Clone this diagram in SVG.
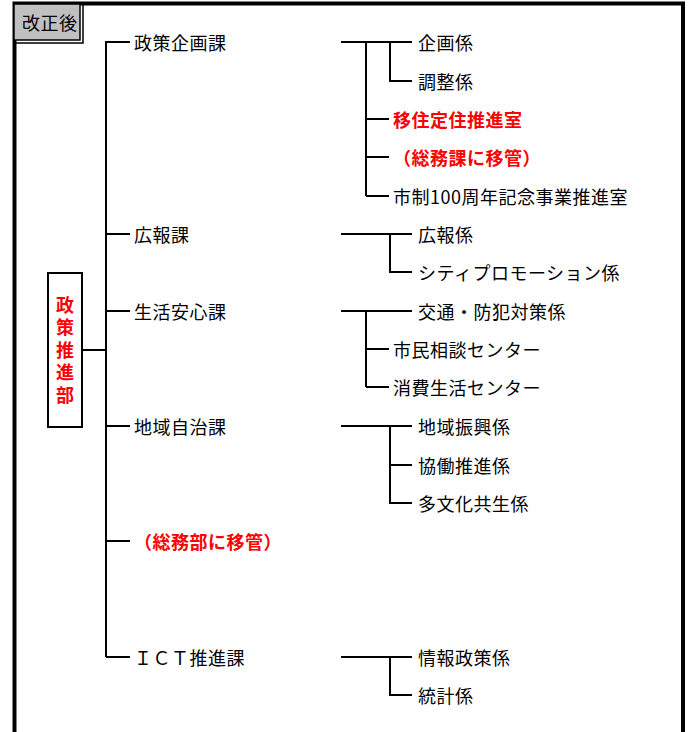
<svg xmlns="http://www.w3.org/2000/svg" width="691" height="732" viewBox="0 0 691 732">
<style>
text{font-family:"Noto Sans CJK JP","Noto Sans",sans-serif;font-size:18px;letter-spacing:0.5px;dominant-baseline:central;fill:#000}
.red{fill:#ff0000;font-weight:bold}
.ln{stroke:#000;stroke-width:2;fill:none}
.frame{stroke:#000;stroke-width:4;fill:none}
</style>
<rect width="691" height="732" fill="#fff"/>
<g id="frame">
<path class="frame" d="M14.5,740 V3.5 H683 V740"/>
</g>
<g id="label">
<rect x="14" y="4" width="66" height="36" fill="#c0c0c0" stroke="#000" stroke-width="1.5"/>
<path d="M14.5,43 H83 V3.5" stroke="#000" stroke-width="1.5" fill="none"/>
<text x="22" y="22">改正後</text>
</g>
<g id="connectors" class="ln">
<path d="M82,350 H106"/>
<path d="M106,41 V657"/>
<path d="M106,42 H130 M106,234 H130 M106,311 H130 M106,426 H130 M106,541 H130 M106,657 H130"/>
<path d="M341,42 H412 M366,42 V196 M366,119 H389 M366,157 H389 M366,196 H389 M390,42 V81 H412"/>
<path d="M341,234 H412 M390,234 V272 H412"/>
<path d="M341,311 H412 M366,311 V387 M366,349 H389 M366,387 H389"/>
<path d="M341,426 H412 M390,426 V503 H412 M390,465 H412"/>
<path d="M341,657 H412 M390,657 V695 H412"/>
</g>
<g id="dept">
<rect x="48" y="273" width="34" height="154" fill="#fff" stroke="#000" stroke-width="2"/>
<text class="red" x="65" y="296" writing-mode="vertical-rl" style="letter-spacing:4.5px;font-size:18px">政策推進部</text>
</g>
<g id="sec-seisaku"><text x="134" y="42">政策企画課</text></g>
<g id="sec-kouhou"><text x="134" y="234">広報課</text></g>
<g id="sec-seikatsu"><text x="134" y="311">生活安心課</text></g>
<g id="sec-chiiki"><text x="134" y="426">地域自治課</text></g>
<g id="sec-moved"><text class="red" x="134" y="541">（総務部に移管）</text></g>
<g id="sec-ict"><text x="134" y="657">ＩＣＴ推進課</text></g>
<g id="u-kikaku"><text x="418" y="42">企画係</text></g>
<g id="u-chousei"><text x="418" y="81">調整係</text></g>
<g id="u-iju"><text class="red" x="393" y="119">移住定住推進室</text></g>
<g id="u-moved"><text class="red" x="393" y="157">（総務課に移管）</text></g>
<g id="u-100"><text x="393" y="196">市制100周年記念事業推進室</text></g>
<g id="u-kouhou"><text x="418" y="234">広報係</text></g>
<g id="u-city"><text x="418" y="272">シティプロモーション係</text></g>
<g id="u-koutsu"><text x="418" y="311">交通・防犯対策係</text></g>
<g id="u-soudan"><text x="393" y="349">市民相談センター</text></g>
<g id="u-shouhi"><text x="393" y="387">消費生活センター</text></g>
<g id="u-shinkou"><text x="418" y="426">地域振興係</text></g>
<g id="u-kyoudou"><text x="418" y="465">協働推進係</text></g>
<g id="u-tabunka"><text x="418" y="503">多文化共生係</text></g>
<g id="u-jouhou"><text x="418" y="657">情報政策係</text></g>
<g id="u-toukei"><text x="418" y="695">統計係</text></g>
</svg>
